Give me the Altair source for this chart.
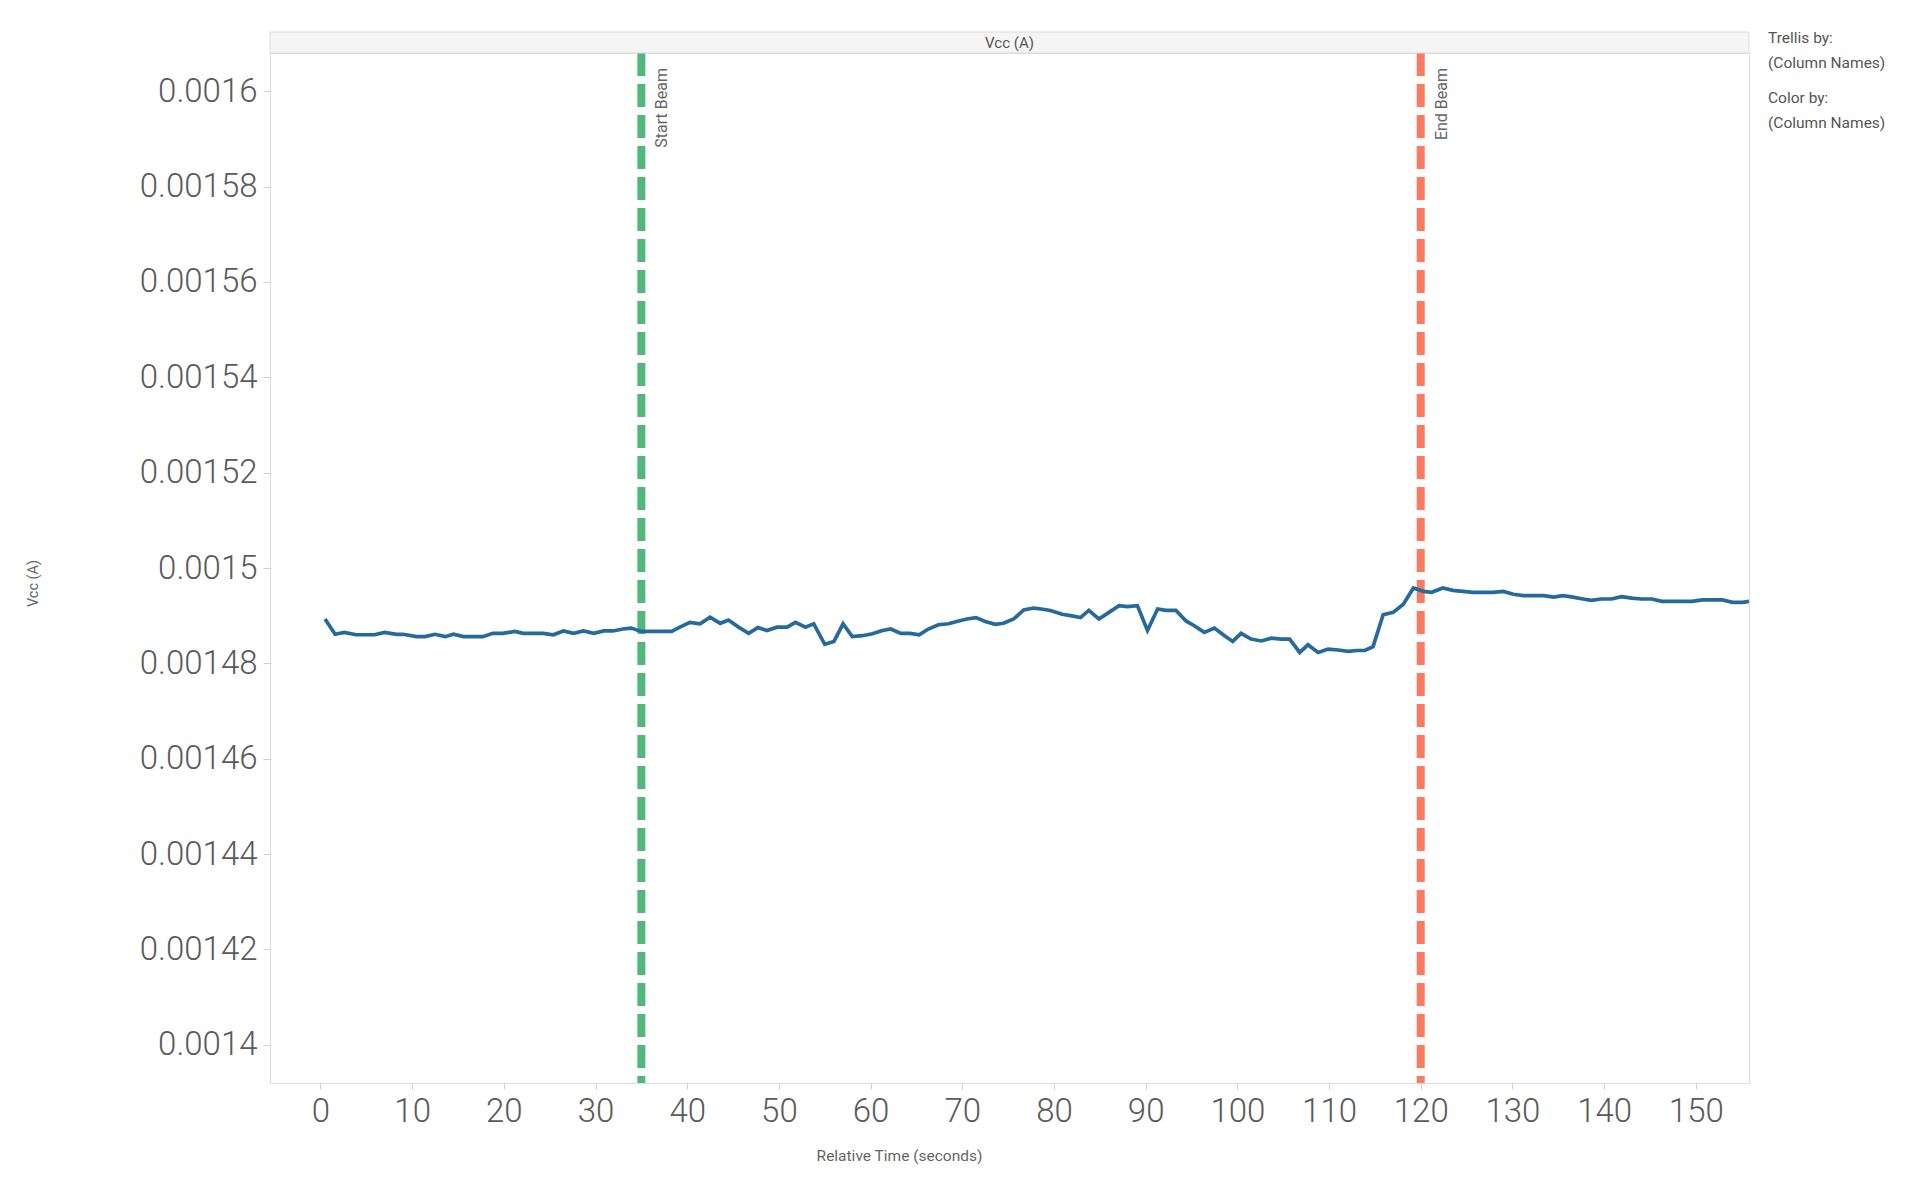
import altair as alt
import pandas as pd

# ---- data ----
time_s = [0.5, 1.6, 2.6, 3.9, 5.9, 7.0, 8.3, 9.0, 10.5, 11.4, 12.5, 13.6, 14.5, 15.6,
          17.7, 18.8, 19.9, 21.2, 22.1, 24.3, 25.4, 26.5, 27.6, 28.7, 29.8, 30.9, 31.9,
          33.0, 33.9, 35.0, 38.3, 39.2, 40.3, 41.4, 42.5, 43.6, 44.5, 45.6, 46.7, 47.7,
          48.7, 49.8, 50.9, 51.8, 52.9, 53.8, 55.0, 56.0, 57.0, 58.0, 59.1, 60.2, 61.3,
          62.2, 63.3, 64.3, 65.3, 66.3, 67.4, 68.5, 69.6, 70.5, 71.5, 72.5, 73.6, 74.5,
          75.6, 76.7, 77.8, 78.6, 79.6, 80.9, 81.8, 82.9, 83.8, 84.9, 86.0, 87.1, 88.0,
          89.1, 90.2, 91.3, 92.2, 93.3, 94.4, 95.3, 96.4, 97.5, 98.6, 99.5, 100.4, 101.5,
          102.6, 103.7, 104.8, 105.7, 106.8, 107.7, 108.8, 109.9, 111.0, 112.1, 113.0,
          113.9, 114.8, 115.9, 117.0, 118.1, 119.2, 120.3, 121.2, 122.4, 123.5, 124.6,
          125.7, 126.8, 127.9, 129.0, 130.1, 131.2, 132.3, 133.4, 134.5, 135.5, 136.6,
          137.7, 138.6, 139.7, 140.8, 141.9, 143.0, 144.1, 145.2, 146.3, 147.4, 148.5,
          149.6, 150.7, 151.8, 152.9, 154.0, 155.1, 155.8]

vcc_a = [0.0014893, 0.0014861, 0.0014865, 0.0014860, 0.0014860, 0.0014865, 0.0014861,
         0.0014861, 0.0014856, 0.0014856, 0.0014861, 0.0014856, 0.0014861, 0.0014856,
         0.0014856, 0.0014863, 0.0014863, 0.0014867, 0.0014863, 0.0014863, 0.0014860,
         0.0014868, 0.0014863, 0.0014868, 0.0014863, 0.0014868, 0.0014868, 0.0014872,
         0.0014874, 0.0014867, 0.0014867, 0.0014876, 0.0014886, 0.0014883, 0.0014897,
         0.0014884, 0.0014891, 0.0014876, 0.0014863, 0.0014875, 0.0014869, 0.0014876,
         0.0014876, 0.0014886, 0.0014876, 0.0014883, 0.0014840, 0.0014846, 0.0014883,
         0.0014856, 0.0014858, 0.0014862, 0.0014869, 0.0014872, 0.0014863, 0.0014863,
         0.0014860, 0.0014872, 0.0014881, 0.0014883, 0.0014889, 0.0014893, 0.0014896,
         0.0014888, 0.0014882, 0.0014884, 0.0014893, 0.0014912, 0.0014916, 0.0014914,
         0.0014911, 0.0014903, 0.0014900, 0.0014896, 0.0014911, 0.0014893, 0.0014907,
         0.0014921, 0.0014919, 0.0014921, 0.0014869, 0.0014914, 0.0014911, 0.0014911,
         0.0014889, 0.0014879, 0.0014865, 0.0014874, 0.0014858, 0.0014846, 0.0014863,
         0.0014851, 0.0014847, 0.0014853, 0.0014851, 0.0014851, 0.0014823, 0.0014839,
         0.0014823, 0.0014830, 0.0014828, 0.0014825, 0.0014827, 0.0014827, 0.0014835,
         0.0014902, 0.0014907, 0.0014924, 0.0014958, 0.0014951, 0.0014949, 0.0014958,
         0.0014953, 0.0014951, 0.0014949, 0.0014949, 0.0014949, 0.0014951, 0.0014945,
         0.0014942, 0.0014942, 0.0014942, 0.0014939, 0.0014942, 0.0014939, 0.0014935,
         0.0014932, 0.0014935, 0.0014935, 0.0014940, 0.0014937, 0.0014935, 0.0014935,
         0.0014930, 0.0014930, 0.0014930, 0.0014930, 0.0014933, 0.0014933, 0.0014933,
         0.0014928, 0.0014928, 0.0014930]

x_ticks = [0, 10, 20, 30, 40, 50, 60, 70, 80, 90, 100, 110, 120, 130, 140, 150]
y_ticks = [0.0014, 0.00142, 0.00144, 0.00146, 0.00148, 0.0015,
           0.00152, 0.00154, 0.00156, 0.00158, 0.0016]

beam_times = [35, 120]
beam_labels = ["Start Beam", "End Beam"]
beam_colors = ["#52b77c", "#fb7a60"]

panel_header = ["Vcc (A)"]
legend_block_1 = ["Trellis by:\n(Column Names)"]
legend_block_2 = ["Color by:\n(Column Names)"]

# ---- build ----
df = pd.DataFrame({"t": time_s, "v": vcc_a})
beams = pd.DataFrame({"t": beam_times, "label": beam_labels, "color": beam_colors})
hdr = pd.DataFrame({"h": panel_header})
leg1 = pd.DataFrame({"s": legend_block_1})
leg2 = pd.DataFrame({"s": legend_block_2})

W, H = 1479, 1030
FONT = "Roboto"
x_scale = alt.Scale(domain=[-5.5, 155.8], nice=False, zero=False)
y_scale = alt.Scale(domain=[0.001392, 0.001608], nice=False, zero=False)

x_axis = alt.Axis(values=x_ticks, title="Relative Time (seconds)", grid=False, domain=False,
                  labelFontSize=33, labelColor="#5a5a5a", labelFont=FONT, labelFontWeight=300,
                  tickColor="#d0d0d0", tickSize=6, labelPadding=6,
                  titleFontSize=15.5, titleColor="#666666", titleFont=FONT,
                  titleFontWeight="normal", titleX=629, titleY=72,
                  titleBaseline="middle", titleAlign="center")
y_axis = alt.Axis(values=y_ticks, format=".5~f", title="Vcc (A)", grid=False, domain=False,
                  labelFontSize=33, labelColor="#5a5a5a", labelFont=FONT, labelFontWeight=300,
                  tickColor="#d0d0d0", tickSize=7, labelPadding=6,
                  titleFontSize=14.5, titleColor="#666666", titleFont=FONT,
                  titleFontWeight="normal", titleX=-237, titleY=530,
                  titleAngle=270, titleBaseline="middle", titleAlign="center")

rules = alt.Chart(beams).mark_rule(strokeWidth=8, strokeDash=[23, 8]).encode(
    x=alt.X("t:Q", scale=x_scale, axis=x_axis),
    color=alt.Color("color:N", scale=None),
)

beam_text = alt.Chart(beams).mark_text(
    angle=270, align="right", baseline="middle", dy=21,
    fontSize=16, color="#666666", font=FONT,
).encode(
    x=alt.X("t:Q", scale=x_scale),
    y=alt.value(15),
    text="label:N",
)

line = alt.Chart(df).mark_line(color="#266a9c", strokeWidth=3.7).encode(
    x=alt.X("t:Q", scale=x_scale, axis=x_axis),
    y=alt.Y("v:Q", scale=y_scale, axis=y_axis),
)

header_rect = alt.Chart(hdr).mark_rect(fill="#f5f5f5", stroke="#dddddd", strokeWidth=1).encode(
    x=alt.value(0), x2=alt.value(W), y=alt.value(-21), y2=alt.value(0)
)
header_text = alt.Chart(hdr).mark_text(
    fontSize=15, color="#555555", baseline="middle", align="center", font=FONT
).encode(x=alt.value(W / 2), y=alt.value(-10.5), text="h:N")

legend_1 = alt.Chart(leg1).mark_text(
    align="left", baseline="alphabetic", lineBreak="\n", lineHeight=24.5,
    fontSize=15.5, color="#555555", font=FONT,
).encode(x=alt.value(1498), y=alt.value(-10), text="s:N")
legend_2 = alt.Chart(leg2).mark_text(
    align="left", baseline="alphabetic", lineBreak="\n", lineHeight=24.5,
    fontSize=15.5, color="#555555", font=FONT,
).encode(x=alt.value(1498), y=alt.value(50), text="s:N")

chart = alt.layer(
    rules, line, beam_text, header_rect, header_text, legend_1, legend_2
).properties(
    width=W, height=H,
    padding={"left": 270, "top": 53, "right": 166, "bottom": 94},
    autosize=alt.AutoSizeParams(type="none"),
).configure_view(
    stroke="#dddddd", strokeWidth=1
).configure(
    background="white"
)

chart.save("out.html", embed_options={"renderer": "svg", "actions": False})
